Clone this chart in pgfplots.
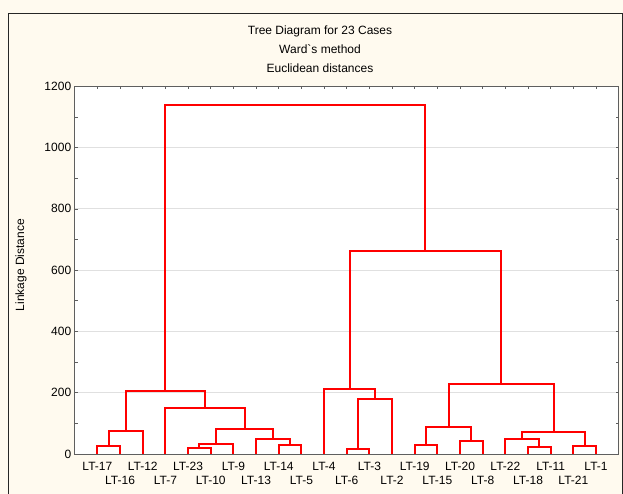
\documentclass[border=0pt]{standalone}
\usepackage{fontspec}
\setmainfont{Liberation Sans}[Ligatures=TeXOff]
\usepackage{pgfplots}
\pgfplotsset{compat=1.18}
\definecolor{cream}{RGB}{255,250,239}
\definecolor{gridgray}{RGB}{224,224,224}
\definecolor{axgray}{RGB}{95,95,95}
\newcommand\lo[1]{\raisebox{-13.5bp}[\height][\depth]{#1}}
\begin{document}
\begin{tikzpicture}[x=1bp,y=1bp,font=\fontsize{12bp}{14bp}\selectfont]
\useasboundingbox (0,0) rectangle (623,494);
\fill[cream] (0,0) rectangle (623,494);
\draw[black!85, line width=1bp] (8,-10) -- (8,480) -- (622,480) -- (622,-10);
\node at (320,463) {Tree Diagram for 23 Cases};
\node at (320,444.5) {Ward`s method};
\node at (320,426) {Euclidean distances};
\node[rotate=90] at (21,229) {Linkage Distance};
\begin{axis}[
  at={(74.7bp,40bp)}, anchor=south west,
  width=544bp, height=367.7bp, scale only axis,
  xmin=0, xmax=24, ymin=0, ymax=1200,
  clip=false,
  axis background/.style={fill=white},
  axis line style={axgray, line width=0.8bp},
  xtick={1,...,23},
  xticklabels={LT-17,\lo{LT-16},LT-12,\lo{LT-7},LT-23,\lo{LT-10},LT-9,\lo{LT-13},LT-14,\lo{LT-5},LT-4,\lo{LT-6},LT-3,\lo{LT-2},LT-19,\lo{LT-15},LT-20,\lo{LT-8},LT-22,\lo{LT-18},LT-11,\lo{LT-21},LT-1},
  xtick pos=upper, xticklabel pos=lower,
  ytick={0,200,...,1200},
  minor ytick={100,300,...,1100},
  ytick pos=both, yticklabel pos=left,
  tick align=inside,
  major tick length=3bp, minor tick length=3bp,
  tick style={axgray, line width=0.6bp},
  ymajorgrids, major grid style={gridgray, line width=0.8bp},
  tick label style={font=\fontsize{12bp}{14bp}\selectfont},
  xticklabel style={yshift=-5bp},
  /pgf/number format/1000 sep={},
  /pgf/number format/assume math mode=true,
  unbounded coords=jump,
]
\addplot[red, line width=2bp, mark=none, solid] coordinates {
(1,0) (1,27) (2,27) (2,0) (nan,nan)
(1.5,27) (1.5,76) (3,76) (3,0) (nan,nan)
(5,0) (5,20) (6,20) (6,0) (nan,nan)
(5.5,20) (5.5,33) (7,33) (7,0) (nan,nan)
(9,0) (9,30) (10,30) (10,0) (nan,nan)
(8,0) (8,50) (9.5,50) (9.5,30) (nan,nan)
(6.25,33) (6.25,81) (8.75,81) (8.75,50) (nan,nan)
(4,0) (4,151) (7.5,151) (7.5,81) (nan,nan)
(2.25,76) (2.25,206) (5.75,206) (5.75,151) (nan,nan)
(12,0) (12,16) (13,16) (13,0) (nan,nan)
(12.5,16) (12.5,179) (14,179) (14,0) (nan,nan)
(11,0) (11,212) (13.25,212) (13.25,179) (nan,nan)
(15,0) (15,30) (16,30) (16,0) (nan,nan)
(17,0) (17,43) (18,43) (18,0) (nan,nan)
(15.5,30) (15.5,89) (17.5,89) (17.5,43) (nan,nan)
(20,0) (20,24) (21,24) (21,0) (nan,nan)
(19,0) (19,50) (20.5,50) (20.5,24) (nan,nan)
(22,0) (22,27) (23,27) (23,0) (nan,nan)
(19.75,50) (19.75,71) (22.5,71) (22.5,27) (nan,nan)
(16.5,89) (16.5,230) (21.125,230) (21.125,71) (nan,nan)
(12.125,212) (12.125,661) (18.8125,661) (18.8125,230) (nan,nan)
(4,206) (4,1138) (15.46875,1138) (15.46875,661)
};
\end{axis}
\end{tikzpicture}
\end{document}
